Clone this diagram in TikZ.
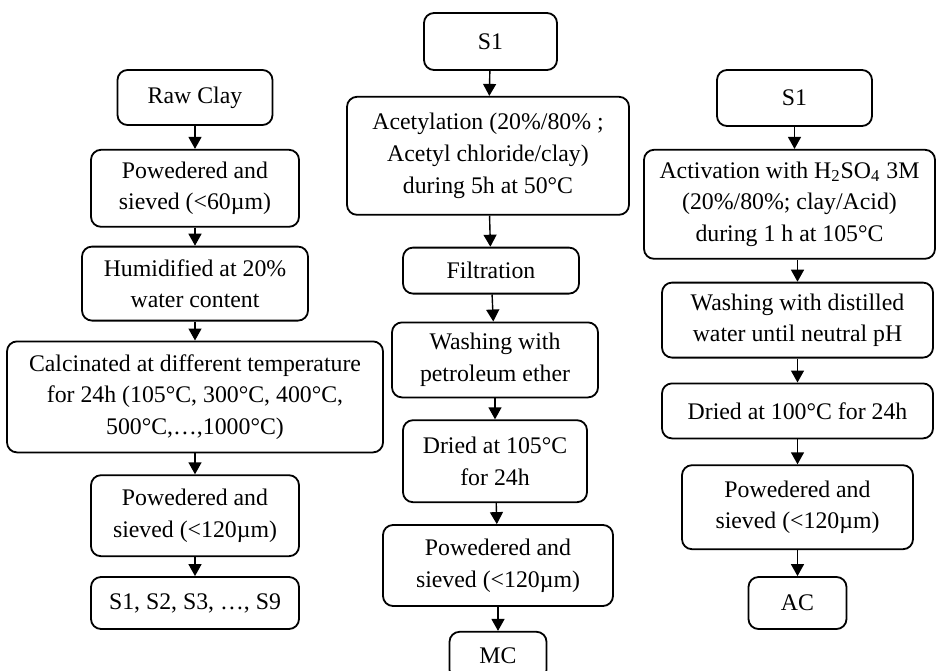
\documentclass[tikz,border=0pt]{standalone}
\usepackage{fontspec}
\setmainfont{Liberation Serif}
\usetikzlibrary{arrows.meta,positioning}

\begin{document}
\begin{tikzpicture}[->,>={Triangle[length=6pt,width=6.5pt]},line width=0.7pt,
	box/.style={draw,rounded corners=5pt,align=center,inner sep=2pt,line width=0.9pt,font=\fontsize{11.9}{15.8}\selectfont}]
			\useasboundingbox (0,0) rectangle (468pt,-335pt);
			% left column
			\node[box,minimum width=77.5pt,minimum height=27.5pt] (raw) at (97.5pt,-48.75pt) {Raw Clay};
			\node[box,minimum width=104pt,minimum height=38.5pt] (pow1) [below=11.5pt of raw] {Powedered and\\sieved (<60µm)};
			\node[box,minimum width=113pt,minimum height=37pt] (hum) [below=9pt of pow1] {Humidified at 20\%\\water content};
			\node[box,minimum width=188pt,minimum height=55.5pt] (calc) [below=9.5pt of hum] {Calcinated at different temperature\\for 24h (105°C, 300°C, 400°C,\\500°C,…,1000°C)};
			\node[box,minimum width=104pt,minimum height=40.5pt] (pow2) [below=10.5pt of calc] {Powedered and\\sieved (<120µm)};
			\node[box,minimum width=104pt,minimum height=26pt] (samp) [below=9.5pt of pow2] {S1, S2, S3, …, S9};
			% middle column
			\node[box,minimum width=66.5pt,minimum height=28.5pt] (s1m) at (245.25pt,-20.75pt) {S1};
			\node[box,minimum width=141pt,minimum height=59pt] (acet) [below=12.5pt of s1m,xshift=-1.25pt] {Acetylation (20\%/80\% ;\\Acetyl chloride/clay)\\during 5h at 50°C};
			\node[box,minimum width=88pt,minimum height=23pt] (filt) [below=15.5pt of acet,xshift=1.5pt] {Filtration};
			\node[box,minimum width=103pt,minimum height=37.5pt] (wash) [below=13.5pt of filt,xshift=2pt] {Washing with\\petroleum ether};
			\node[box,minimum width=92pt,minimum height=41pt] (dry) [below=10.5pt of wash] {Dried at 105°C\\for 24h};
			\node[box,minimum width=115pt,minimum height=40.5pt] (pow3) [below=10.5pt of dry,xshift=1.5pt] {Powedered and\\sieved (<120µm)};
			\node[box,minimum width=48.5pt,minimum height=24pt] (mc) [below=12pt of pow3] {MC};
			% right column
			\node[box,minimum width=77.5pt,minimum height=28pt] (s1r) at (397.25pt,-49pt) {S1};
			\node[box,minimum width=145.5pt,minimum height=54.5pt] (act) [below=11pt of s1r,xshift=-2.5pt] {Activation with H\textsubscript{2}SO\textsubscript{4} 3M\\(20\%/80\%; clay/Acid)\\during 1 h at 105°C};
			\node[box,minimum width=135.5pt,minimum height=37.5pt] (wash2) [below=11pt of act,xshift=4pt] {Washing with distilled\\water until neutral pH};
			\node[box,minimum width=135.5pt,minimum height=27.5pt] (dry2) [below=12pt of wash2] {Dried at 100°C for 24h};
			\node[box,minimum width=115.5pt,minimum height=42pt] (pow4) [below=12.5pt of dry2] {Powedered and\\sieved (<120µm)};
			\node[box,minimum width=49pt,minimum height=26pt] (ac) [below=13pt of pow4] {AC};

			\path
			(raw) edge (pow1)
			(pow1) edge (hum)
			(hum) edge (calc)
			(calc) edge (pow2)
			(pow2) edge (samp)
			(s1m) edge (acet)
			(acet) edge (filt)
			(filt) edge (wash)
			(wash) edge (dry)
			(dry) edge (pow3)
			(pow3) edge (mc)
			(s1r) edge (s1r |- act.north)
			(wash2.north |- act.south) edge (wash2)
			(wash2) edge (dry2)
			(dry2) edge (pow4)
			(pow4) edge (ac);
			\end{tikzpicture}
\end{document}
